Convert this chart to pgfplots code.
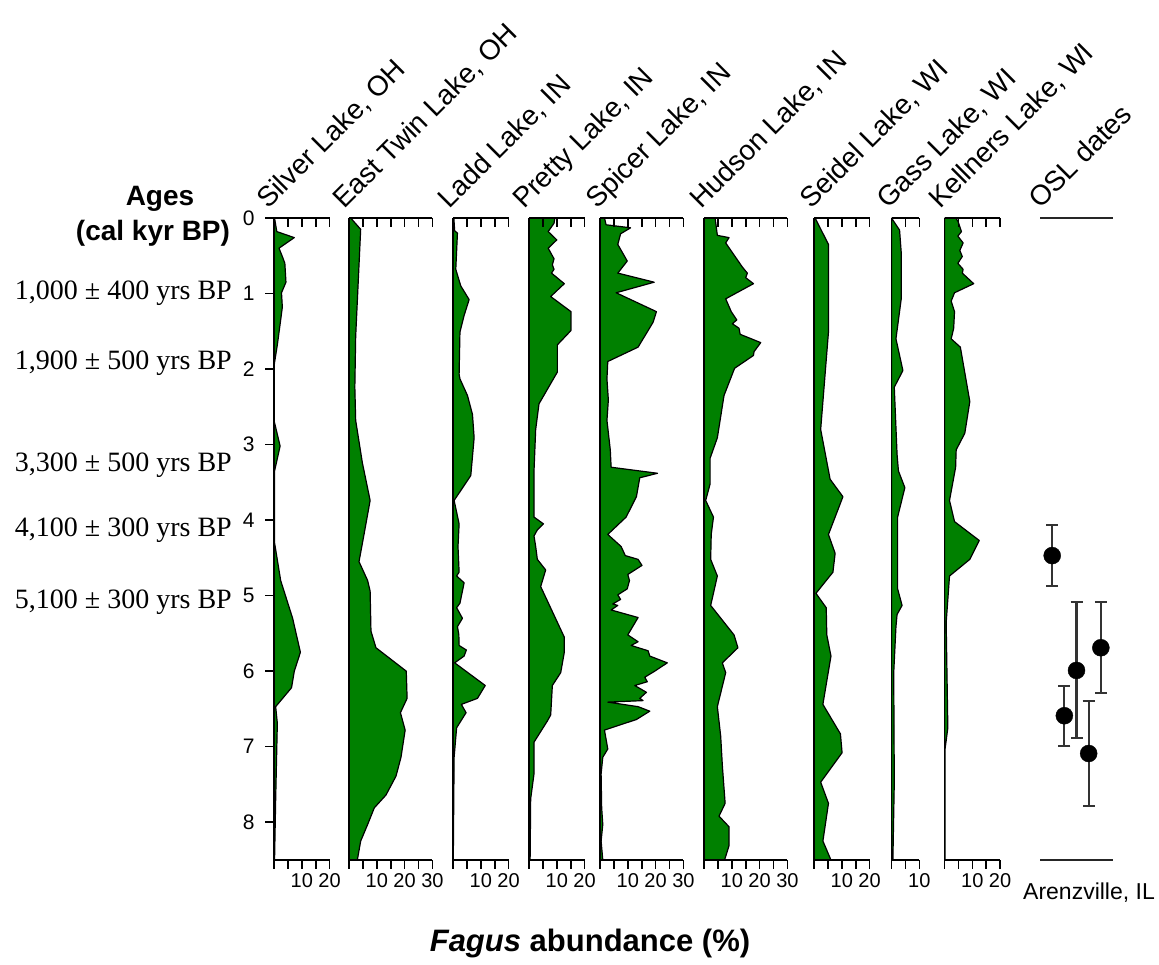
\documentclass[border=0pt]{standalone}
\usepackage{pgfplots}
\pgfplotsset{compat=1.18}
\usepackage{fontspec}
\setmainfont{Liberation Sans}
\newfontfamily\timesf{Liberation Serif}
\definecolor{fg}{RGB}{0,128,0}
\newcommand{\tickfont}{\fontsize{20}{24}\selectfont}
\newcommand{\titlefont}{\fontsize{28}{32}\selectfont}
\pgfplotsset{
  every non boxed x axis/.style={},
  every non boxed y axis/.style={},
  base/.style={scale only axis, anchor=north west, height=642pt,
    xmin=0, ymin=-8.5, ymax=0,
    axis line style={-, line width=1.8pt, black},
    every tick/.style={black, line width=1.6pt},
    major tick length=9pt,
    /pgf/number format/assume math mode=true,
    ytick=\empty},
  mainpanel/.style={base, y filter/.expression={-y},
    axis x line*=bottom, axis y line*=left,
    xtick align=outside, axis on top,
    xticklabel style={font=\tickfont, inner sep=1pt, yshift=-3pt}},
  toppanel/.style={base, axis x line*=top, axis y line=none,
    xtick align=inside, xticklabels={}},
}
\newcommand{\panel}[6]{%
  \begin{axis}[mainpanel, at={(#2pt,747pt)}, width=#3pt, xmax=#4,
     xtick={0,5,...,#4}, xticklabels={#5}, #1]
    \addplot[fill=fg, draw=black, line width=1.2pt, line join=round] coordinates {#6} -- cycle;
  \end{axis}
  \begin{axis}[toppanel, at={(#2pt,747pt)}, width=#3pt, xmax=#4, xtick={0,5,...,#4}]
  \end{axis}}
\begin{document}
\begin{tikzpicture}
\useasboundingbox (0,0) rectangle (1159pt,965pt);
% Silver Lake
\panel{ytick={-8,-7,...,0}, yticklabels={8,7,6,5,4,3,2,1,0}, ytick align=outside, yticklabel style={font=\fontsize{21}{25}\selectfont, xshift=-7pt}}{274}{55.6}{20}{,,10,,20}
{(0,0) (0.2,0) (1.0,0.18) (7.3,0.26) (1.8,0.40) (3.0,0.51) (3.9,0.6) (4.3,0.85) (2.7,0.99) (3.0,1.18) (2.4,1.35) (1.2,1.68) (0,1.96) (0,2.68) (2.2,3.02) (0.2,3.35) (0.2,4.3) (2.4,4.8) (6.7,5.3) (9.5,5.75) (7.3,6.0) (6.3,6.22) (0.6,6.47) (1.2,6.69) (0.6,7.7) (0.2,8.5) (0,8.5)}
% East Twin
\panel{}{349}{83.4}{30}{,,10,,20,,30}
{(0,0) (0.6,0) (4.2,0.15) (2.4,1.57) (2.1,2.24) (2.4,2.68) (4.8,3.24) (7.6,3.74) (5.4,4.19) (3.6,4.55) (6.7,4.8) (7.6,4.94) (7.9,5.47) (9.7,5.69) (20.6,6.0) (20.9,6.36) (18.5,6.55) (20.2,6.78) (18.7,7.14) (16.9,7.39) (13.3,7.64) (9.1,7.81) (6.7,8.03) (4.2,8.25) (3.0,8.5) (0,8.5)}
% Ladd
\panel{}{453}{55.6}{20}{,,10,,20}
{(0,0) (0.3,0) (0.6,0.17) (1.6,0.2) (1.0,0.68) (2.8,0.9) (5.8,1.08) (4.0,1.29) (2.5,1.51) (2.2,2.07) (2.5,2.13) (5.2,2.35) (7.0,2.6) (7.6,2.91) (6.4,3.41) (0.4,3.74) (2.2,4.05) (1.8,4.35) (2.2,4.69) (1.3,4.74) (4.0,4.83) (2.5,5.1) (1.3,5.16) (3.4,5.3) (1.6,5.41) (2.1,5.52) (2.2,5.66) (4.8,5.72) (4.0,5.8) (0.6,5.89) (11.6,6.19) (8.8,6.36) (3.0,6.44) (4.7,6.55) (1.3,6.75) (0.4,7.14) (0.1,8.5) (0,8.5)}
% Pretty
\panel{}{529}{55.6}{20}{,,10,,20}
{(0,0) (9.3,0) (9.0,0.07) (6.9,0.18) (10.0,0.29) (6.9,0.4) (9.0,0.54) (8.4,0.62) (9.0,0.68) (8.1,0.73) (12.7,0.87) (7.8,1.04) (15.1,1.24) (15.1,1.49) (10.2,1.68) (10.2,2.04) (3.6,2.46) (2.4,2.8) (1.8,3.35) (1.8,3.96) (5.2,4.05) (3.0,4.13) (1.8,4.21) (2.4,4.35) (3.0,4.52) (6.0,4.66) (4.2,4.88) (12.7,5.55) (12.7,5.75) (11.4,6.02) (8.4,6.19) (7.8,6.58) (6.6,6.66) (1.8,6.94) (1.8,7.36) (0.6,7.69) (0.4,8.5) (0,8.5)}
% Spicer
\panel{}{600}{83.4}{30}{,,10,,20,,30}
{(0,0) (1.6,0) (2.2,0.09) (11.0,0.13) (7.4,0.21) (6.4,0.35) (9.8,0.57) (6.4,0.73) (19.5,0.85) (5.8,0.99) (20.3,1.24) (19.1,1.38) (13.7,1.71) (2.8,1.9) (2.5,2.13) (3.0,2.41) (2.5,2.68) (3.7,3.07) (4.0,3.3) (20.7,3.38) (14.3,3.44) (13.1,3.69) (9.4,3.96) (2.8,4.19) (7.6,4.35) (9.1,4.47) (13.7,4.52) (15.1,4.6) (10.0,4.72) (10.6,4.8) (9.8,4.91) (6.4,4.99) (7.4,5.05) (4.6,5.11) (6.4,5.13) (4.0,5.19) (13.7,5.29) (10.0,5.52) (13.7,5.61) (11.2,5.66) (17.3,5.73) (17.9,5.8) (24.2,5.89) (19.7,6.0) (16.1,6.08) (17.0,6.14) (12.5,6.19) (16.7,6.28) (14.3,6.36) (15.5,6.39) (2.8,6.41) (13.7,6.47) (17.9,6.53) (13.1,6.64) (1.6,6.78) (2.8,7.03) (1.0,7.14) (0.4,7.36) (0.6,7.81) (1.0,8.03) (0.4,8.25) (1.0,8.5) (0,8.5)}
% Hudson
\panel{}{704}{83.4}{30}{,,10,,20,,30}
{(0,0) (4.0,0) (4.8,0.23) (9.0,0.26) (7.8,0.33) (13.8,0.65) (15.6,0.73) (15.0,0.79) (17.8,0.87) (7.8,1.07) (9.8,1.24) (11.8,1.35) (10.2,1.4) (12.6,1.46) (13.0,1.54) (20.4,1.65) (18.0,1.77) (17.8,1.82) (11.0,1.99) (7.2,2.35) (4.8,2.91) (2.2,3.18) (2.2,3.52) (0.6,3.74) (3.4,3.96) (2.6,4.19) (2.4,4.52) (4.8,4.74) (2.4,5.13) (10.8,5.52) (12.2,5.69) (6.6,5.89) (7.8,6.02) (4.8,6.47) (6.0,6.86) (6.6,7.25) (7.6,7.75) (5.4,7.92) (9.0,8.06) (9.0,8.31) (7.4,8.5) (0,8.5)}
% Seidel
\panel{}{814}{55.6}{20}{,,10,,20}
{(0,0) (0.4,0) (5.2,0.35) (5.2,1.51) (2.4,2.8) (5.8,3.46) (10.4,3.69) (5.2,4.19) (7.6,4.44) (6.8,4.69) (0.7,4.97) (4.4,5.16) (4.6,5.52) (6.1,5.8) (3.2,6.44) (9.5,6.83) (10.1,7.08) (2.4,7.47) (5.2,7.75) (3.2,8.25) (6.1,8.5) (0,8.5)}
% Gass
\panel{}{891.5}{27.8}{10}{,,10}
{(0,0) (2.9,0.16) (3.5,0.46) (3.5,1.07) (1.6,1.6) (4.1,2.02) (1.0,2.24) (2.0,3.13) (2.5,3.35) (4.8,3.57) (2.2,3.96) (2.2,4.91) (3.8,5.13) (2.0,5.25) (1.6,5.41) (0.8,6.02) (1.0,7.47) (0.5,8.5) (0,8.5)}
% Kellners
\panel{}{944.5}{55.6}{20}{,,10,,20}
{(0,0) (4.0,0) (4.8,0.04) (6.1,0.18) (4.8,0.24) (6.7,0.33) (5.5,0.43) (6.4,0.51) (4.8,0.6) (6.7,0.68) (6.4,0.73) (10.5,0.87) (3.6,0.99) (2.4,1.1) (3.6,1.24) (3.3,1.46) (2.4,1.6) (5.7,1.71) (9.1,2.43) (7.3,2.85) (4.2,3.07) (4.0,3.3) (1.8,3.74) (3.6,4.02) (12.5,4.27) (9.1,4.52) (1.8,4.74) (0.6,5.36) (1.2,6.75) (0.2,7.03) (0.2,8.5) (0,8.5)}
% OSL
\begin{axis}[scale only axis, anchor=north west, at={(1040pt,747pt)}, width=73pt, height=642pt,
  xmin=0, xmax=6, ymin=0, ymax=8.5, y dir=reverse, hide axis, clip=false]
  \addplot[only marks, mark=*, mark size=8.5pt, black,
    error bars/.cd, y dir=both, y explicit,
    error bar style={line width=2.2pt, draw=black!80},
    error mark options={rotate=90, draw=black!80, mark size=6pt, line width=2pt}]
    coordinates {(1,4.47) +- (0,0.4) (2,6.59) +- (0,0.4) (3,5.99) +- (0,0.9) (4,7.09) +- (0,0.7) (5,5.69) +- (0,0.6)};
  \draw[line width=1.8pt, black!85] (rel axis cs:0,0) -- (rel axis cs:1,0);
  \draw[line width=1.8pt, black!85] (rel axis cs:0,1) -- (rel axis cs:1,1);
\end{axis}
% titles
\begin{scope}[every node/.style={rotate=45, anchor=base west, font=\titlefont, inner sep=0pt}]
\node at (268pt,755pt) {Silver Lake, OH};
\node at (344pt,755pt) {East Twin Lake, OH};
\node at (449pt,755pt) {Ladd Lake, IN};
\node at (524pt,755pt) {Pretty Lake, IN};
\node at (597pt,755pt) {Spicer Lake, IN};
\node at (701pt,755pt) {Hudson Lake, IN};
\node at (811pt,755pt) {Seidel Lake, WI};
\node at (888pt,755pt) {Gass Lake, WI};
\node at (940pt,755pt) {Kellners Lake, WI};
\node at (1040pt,755pt) {OSL dates};
\end{scope}
\node[font=\bfseries\fontsize{28}{32}\selectfont] at (160pt,766pt) {Ages};
\node[font=\bfseries\fontsize{28}{32}\selectfont] at (153pt,732pt) {(cal kyr BP)};
\begin{scope}[every node/.style={anchor=east, font=\timesf\fontsize{28}{32}\selectfont, inner sep=0pt}]
\node at (232pt,672pt) {1,000 ± 400 yrs BP};
\node at (232pt,602pt) {1,900 ± 500 yrs BP};
\node at (232pt,500pt) {3,300 ± 500 yrs BP};
\node at (232pt,435pt) {4,100 ± 300 yrs BP};
\node at (232pt,363pt) {5,100 ± 300 yrs BP};
\end{scope}
\node[font=\bfseries\fontsize{31}{35}\selectfont] at (590pt,22pt) {\textit{Fagus} abundance (\%)};
\node[font=\fontsize{23}{27}\selectfont] at (1089pt,72pt) {Arenzville, IL};
\end{tikzpicture}
\end{document}
